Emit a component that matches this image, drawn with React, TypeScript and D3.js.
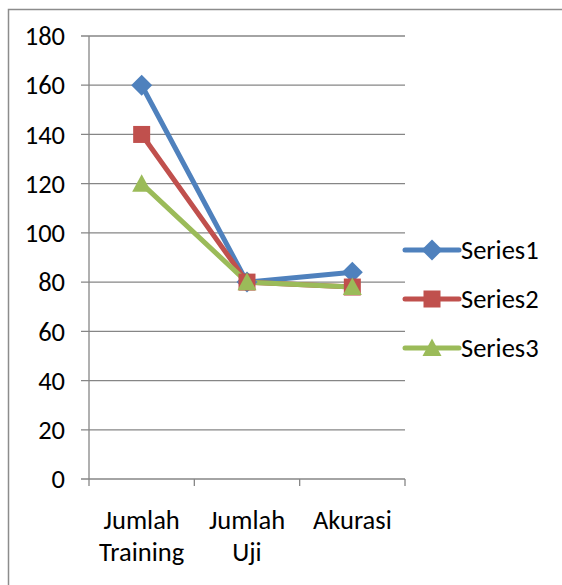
import React from "react";
import * as d3 from "d3";

const categories = [["Jumlah", "Training"], ["Jumlah", "Uji"], ["Akurasi"]];
const seriesNames = ["Series1", "Series2", "Series3"];
const series1 = [160, 80, 84];
const series2 = [140, 80, 78];
const series3 = [120, 80, 78];
const yTicks = [0, 20, 40, 60, 80, 100, 120, 140, 160, 180];
const colors = ["#4F81BD", "#C0504D", "#9BBB59"];

const W = 562, H = 585;
const left = 89, right = 405, top = 36, bottom = 479;
const font = "Carlito, Calibri, 'Open Sans', 'Liberation Sans', sans-serif";
const fs = 26.5;

function Marker({ kind, x, y, color }: { kind: number; x: number; y: number; color: string }) {
  if (kind === 0) {
    const s = 10.5;
    return <path d={`M${x},${y - s}L${x + s},${y}L${x},${y + s}L${x - s},${y}Z`} fill={color} />;
  }
  if (kind === 1) {
    const s = 8.5;
    return <rect x={x - s} y={y - s} width={2 * s} height={2 * s} fill={color} />;
  }
  const s = 9.5;
  return <path d={`M${x},${y - s}L${x + s},${y + s * 0.85}L${x - s},${y + s * 0.85}Z`} fill={color} />;
}

export default function App() {
  const x = d3.scaleBand<number>().domain([0, 1, 2]).range([left, right]);
  const y = d3.scaleLinear().domain([0, 180]).range([bottom, top]);
  const all = [series1, series2, series3];
  const line = d3.line<number>().x((_, i) => x(i)! + x.bandwidth() / 2).y((d) => y(d));
  const ticksX = [0, 1, 2, 3].map((i) => left + i * x.bandwidth());
  return (
    <svg width={W} height={H} style={{ position: "absolute", left: 0, top: 0 }}>
      <rect x={0} y={0} width={W} height={H} fill="#fff" />
      <path d={`M8.5,${H}V9.5H${W}`} fill="none" stroke="#8c8c8c" strokeWidth={1.5} />
      {yTicks.map((t) => (
        <g key={t}>
          <line x1={81} x2={right} y1={y(t)} y2={y(t)} stroke="#868686" strokeWidth={1.3} />
          <text x={65} y={y(t)} dy="0.35em" textAnchor="end" fontFamily={font} fontSize={fs} fill="#000">{t}</text>
        </g>
      ))}
      <line x1={left} x2={left} y1={top} y2={bottom} stroke="#868686" strokeWidth={1.3} />
      {ticksX.map((tx, i) => (
        <line key={i} x1={tx} x2={tx} y1={bottom} y2={bottom + 7} stroke="#868686" strokeWidth={1.3} />
      ))}
      {categories.map((c, i) => (
        <text key={i} x={x(i)! + x.bandwidth() / 2} y={529} textAnchor="middle" fontFamily={font} fontSize={fs} fill="#000">
          {c.map((l, j) => (
            <tspan key={j} x={x(i)! + x.bandwidth() / 2} dy={j === 0 ? 0 : 32}>{l}</tspan>
          ))}
        </text>
      ))}
      {all.map((s, k) => (
        <path key={k} d={line(s)!} fill="none" stroke={colors[k]} strokeWidth={5} strokeLinejoin="round" />
      ))}
      {all.map((s, k) =>
        s.map((v, i) => <Marker key={`${k}-${i}`} kind={k} x={x(i)! + x.bandwidth() / 2} y={y(v)} color={colors[k]} />)
      )}
      {seriesNames.map((n, k) => {
        const ly = 250 + k * 49;
        return (
          <g key={n}>
            <line x1={405} x2={459} y1={ly} y2={ly} stroke={colors[k]} strokeWidth={5} strokeLinecap="round" />
            <Marker kind={k} x={432} y={ly} color={colors[k]} />
            <text x={461} y={ly} dy="0.35em" fontFamily={font} fontSize={fs} fill="#000">{n}</text>
          </g>
        );
      })}
    </svg>
  );
}
